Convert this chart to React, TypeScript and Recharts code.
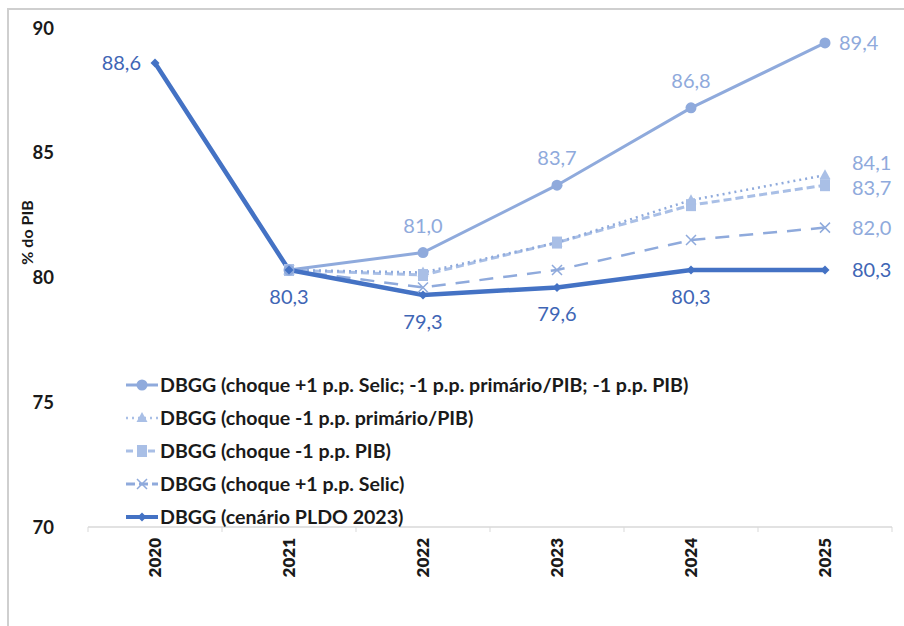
import React from "react";
import { LineChart, Line, XAxis, YAxis, LabelList } from "recharts";

const years = ["2020", "2021", "2022", "2023", "2024", "2025"];
const combinado = [null, 80.3, 81.0, 83.7, 86.8, 89.4];
const primario = [null, 80.3, 80.2, 81.4, 83.1, 84.1];
const pib = [null, 80.3, 80.1, 81.4, 82.9, 83.7];
const selic = [null, 80.3, 79.6, 80.3, 81.5, 82.0];
const pldo = [88.6, 80.3, 79.3, 79.6, 80.3, 80.3];
const yTicks = [70, 75, 80, 85, 90];

const data = years.map((year, i) => ({
  year,
  combinado: combinado[i],
  primario: primario[i],
  pib: pib[i],
  selic: selic[i],
  pldo: pldo[i],
}));

const FONT = "Lato, 'Noto Sans', sans-serif";
const W = 904;
const H = 626;
const X_H = 99;
const MARGIN = { top: 28, right: 12, bottom: 0, left: 28 };
const Y_W = 60;
const BAND = (W - MARGIN.left - Y_W - MARGIN.right) / years.length;

const C_LIGHT = "#8FAADC";
const C_LIGHTER = "#A9BFE6";
const C_DARK = "#4472C4";
const C_LABEL_DARK = "#3F66B5";

const fmt = (v: number) => v.toFixed(1).replace(".", ",");

type Marker = "circle" | "triangle" | "square" | "x" | "diamond";

function drawMarker(kind: Marker, cx: number, cy: number, color: string) {
  switch (kind) {
    case "circle":
      return <circle cx={cx} cy={cy} r={5.5} fill={color} />;
    case "triangle":
      return (
        <path
          d={`M${cx},${cy - 6} L${cx + 5.5},${cy + 4} L${cx - 5.5},${cy + 4} Z`}
          fill={color}
        />
      );
    case "square":
      return <rect x={cx - 5} y={cy - 6} width={10} height={12} fill={color} />;
    case "x":
      return (
        <path
          d={`M${cx - 5},${cy - 5} L${cx + 5},${cy + 5} M${cx + 5},${cy - 5} L${cx - 5},${cy + 5}`}
          stroke={color}
          strokeWidth={1.5}
        />
      );
    default:
      return (
        <path
          d={`M${cx},${cy - 4.5} L${cx + 4.5},${cy} L${cx},${cy + 4.5} L${cx - 4.5},${cy} Z`}
          fill={color}
        />
      );
  }
}

const makeDot = (kind: Marker, color: string) => (props: any) => {
  const { cx, cy, index } = props;
  if (cx == null || cy == null || props.value == null) return <g key={index} />;
  return <g key={index}>{drawMarker(kind, cx, cy, color)}</g>;
};

// label placement per point: "above" | "below" | "left" | "right" | null
const makeLabel =
  (places: (string | null)[], color: string, dy = 0, dxRight = 14) =>
  (props: any) => {
    const { x, y, value, index } = props;
    const place = places[index];
    if (value == null || !place) return null;
    let tx = x;
    let ty = y;
    let anchor: "start" | "middle" | "end" = "middle";
    if (place === "above") ty = y - 20;
    if (place === "below") ty = y + 34;
    if (place === "left") {
      tx = x - 14;
      anchor = "end";
      ty = y + 7;
    }
    if (place === "right") {
      tx = x + dxRight;
      anchor = "start";
      ty = y + 7;
    }
    return (
      <text
        x={tx}
        y={ty + dy}
        textAnchor={anchor}
        fill={color}
        fontSize={20}
        fontFamily={FONT}
      >
        {fmt(value)}
      </text>
    );
  };

const legendItems = [
  { name: "DBGG (choque +1 p.p. Selic; -1 p.p. primário/PIB; -1 p.p. PIB)", color: C_LIGHT, dash: undefined, marker: "circle" as Marker, w: 3 },
  { name: "DBGG (choque -1 p.p. primário/PIB)", color: C_LIGHTER, dash: "2 4", marker: "triangle" as Marker, w: 2.5 },
  { name: "DBGG (choque -1 p.p. PIB)", color: C_LIGHTER, dash: "7 4", marker: "square" as Marker, w: 3 },
  { name: "DBGG (choque +1 p.p. Selic)", color: C_LIGHT, dash: "9 4", marker: "x" as Marker, w: 3 },
  { name: "DBGG (cenário PLDO 2023)", color: C_DARK, dash: undefined, marker: "diamond" as Marker, w: 4 },
];

function LegendBox() {
  return (
    <div style={{ fontFamily: FONT }}>
      {legendItems.map((it) => (
        <div
          key={it.name}
          style={{ display: "flex", alignItems: "center", height: 33 }}
        >
          <svg width={32} height={14} style={{ marginRight: 2 }}>
            <line
              x1={0}
              y1={7}
              x2={32}
              y2={7}
              stroke={it.color}
              strokeWidth={it.w}
              strokeDasharray={it.dash}
            />
            {drawMarker(it.marker, 16, 7, it.color)}
          </svg>
          <span style={{ fontSize: 19.6, fontWeight: 700, color: "#1a1a1a" }}>
            {it.name}
          </span>
        </div>
      ))}
    </div>
  );
}

const XTick = (props: any) => {
  const { x, y, payload, index } = props;
  return (
    <g>
      <line x1={x + BAND / 2} y1={y - 8} x2={x + BAND / 2} y2={y - 3} stroke="#D9D9D9" />
      {index === 0 && (
        <line x1={x - BAND / 2} y1={y - 8} x2={x - BAND / 2} y2={y - 3} stroke="#D9D9D9" />
      )}
      <text
        transform={`translate(${x + 6},${y + 3}) rotate(-90)`}
        textAnchor="end"
        fontSize={17}
        fontWeight={800}
        fontFamily={FONT}
        fill="#1a1a1a"
      >
        {payload.value}
      </text>
    </g>
  );
};

export default function App() {
  return (
    <div
      style={{
        position: "absolute",
        left: 0,
        top: 0,
        width: W,
        height: H,
        background: "#fff",
      }}
    >
      <div
        style={{
          position: "absolute",
          left: 7,
          top: 8,
          width: W - 7,
          height: H - 8,
          borderLeft: "2px solid #CFCFCF",
          borderTop: "2px solid #CFCFCF",
        }}
      />
      <div style={{ position: "absolute", left: 0, top: 0 }}>
        <LineChart width={W} height={H} data={data} margin={MARGIN}>
          <XAxis
            dataKey="year"
            scale="band"
            axisLine={{ stroke: "#D9D9D9", strokeWidth: 1.5 }}
            tickLine={false}
            tick={<XTick />}
            height={X_H}
            interval={0}
          />
          <YAxis
            domain={[70, 90]}
            ticks={yTicks}
            width={Y_W}
            axisLine={false}
            tickLine={false}
            tick={{ fontSize: 18.5, fontWeight: 700, fill: "#1a1a1a", fontFamily: FONT, textAnchor: "end" }}
            tickMargin={28}
            label={{
              value: "% do PIB",
              angle: -90,
              position: "insideLeft",
              dx: -6,
              dy: -45,
              style: { fontSize: 16, fontWeight: 700, fill: "#1a1a1a", fontFamily: FONT, textAnchor: "middle" },
            }}
          />
          <Line
            dataKey="selic"
            stroke={C_LIGHT}
            strokeWidth={2.5}
            strokeDasharray="14 10"
            dot={makeDot("x", C_LIGHT)}
            activeDot={false}
            isAnimationActive={false}
          >
            <LabelList dataKey="selic" content={makeLabel([null, null, null, null, null, "right"], C_LIGHT, 0, 27)} />
          </Line>
          <Line
            dataKey="pib"
            stroke={C_LIGHTER}
            strokeWidth={3}
            strokeDasharray="8 4"
            dot={makeDot("square", C_LIGHTER)}
            activeDot={false}
            isAnimationActive={false}
          >
            <LabelList dataKey="pib" content={makeLabel([null, null, null, null, null, "right"], C_LIGHT, 3, 27)} />
          </Line>
          <Line
            dataKey="primario"
            stroke={C_LIGHT}
            strokeWidth={2.5}
            strokeDasharray="2 4"
            dot={makeDot("triangle", C_LIGHTER)}
            activeDot={false}
            isAnimationActive={false}
          >
            <LabelList dataKey="primario" content={makeLabel([null, null, null, null, null, "right"], C_LIGHT, -12, 27)} />
          </Line>
          <Line
            dataKey="combinado"
            stroke={C_LIGHT}
            strokeWidth={3}
            dot={makeDot("circle", C_LIGHT)}
            activeDot={false}
            isAnimationActive={false}
          >
            <LabelList dataKey="combinado" content={makeLabel([null, null, "above", "above", "above", "right"], C_LIGHT)} />
          </Line>
          <Line
            dataKey="pldo"
            stroke={C_DARK}
            strokeWidth={4.5}
            dot={makeDot("diamond", C_DARK)}
            activeDot={false}
            isAnimationActive={false}
          >
            <LabelList dataKey="pldo" content={makeLabel(["left", "below", "below", "below", "below", "right"], C_LABEL_DARK, 0, 27)} />
          </Line>
        </LineChart>
      </div>
      <div style={{ position: "absolute", left: 126, top: 368 }}>
        <LegendBox />
      </div>
    </div>
  );
}
